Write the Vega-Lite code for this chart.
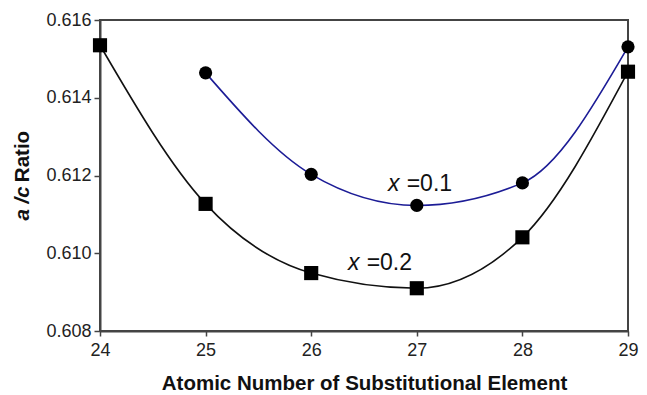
{
  "$schema": "https://vega.github.io/schema/vega-lite/v6.json",
  "width": 528,
  "height": 311,
  "autosize": {"type": "none"},
  "padding": {"left": 100, "top": 20, "right": 19, "bottom": 64},
  "background": "white",
  "config": {
    "view": {"stroke": "#444", "strokeWidth": 2},
    "font": "Liberation Sans",
    "axis": {"grid": false}
  },
  "datasets": {
    "pts": [
      {"z": 25, "r": 0.61464, "s": "x=0.1"},
      {"z": 26, "r": 0.61203, "s": "x=0.1"},
      {"z": 27, "r": 0.61123, "s": "x=0.1"},
      {"z": 28, "r": 0.61181, "s": "x=0.1"},
      {"z": 29, "r": 0.61531, "s": "x=0.1"},
      {"z": 24, "r": 0.61535, "s": "x=0.2"},
      {"z": 25, "r": 0.61127, "s": "x=0.2"},
      {"z": 26, "r": 0.60949, "s": "x=0.2"},
      {"z": 27, "r": 0.60910, "s": "x=0.2"},
      {"z": 28, "r": 0.61041, "s": "x=0.2"},
      {"z": 29, "r": 0.61467, "s": "x=0.2"}
    ],
    "lab": [
      {"z": 26.727, "r": 0.611613, "t": "x", "k": "var"},
      {"z": 26.904, "r": 0.611613, "t": "=0.1", "k": "val"},
      {"z": 26.348, "r": 0.609574, "t": "x", "k": "var"},
      {"z": 26.525, "r": 0.609574, "t": "=0.2", "k": "val"}
    ]
  },
  "resolve": {"scale": {"y": "independent"}},
  "layer": [
    {
      "layer": [
        {
          "data": {"name": "pts"},
          "mark": {"type": "line", "interpolate": "monotone", "strokeWidth": 1.6},
          "encoding": {
            "x": {"field": "z", "type": "quantitative"},
            "y": {"field": "r", "type": "quantitative"},
            "color": {"field": "s", "type": "nominal", "scale": {"domain": ["x=0.1", "x=0.2"], "range": ["#1c1c96", "#111111"]}, "legend": null}
          }
        },
        {
          "data": {"name": "pts"},
          "transform": [{"filter": "datum.s === 'x=0.1'"}],
          "mark": {"type": "point", "shape": "circle", "filled": true, "color": "#000", "opacity": 1, "size": 175},
          "encoding": {
            "x": {"field": "z", "type": "quantitative"},
            "y": {"field": "r", "type": "quantitative"}
          }
        },
        {
          "data": {"name": "pts"},
          "transform": [{"filter": "datum.s === 'x=0.2'"}],
          "mark": {"type": "point", "shape": "square", "filled": true, "color": "#000", "opacity": 1, "size": 200},
          "encoding": {
            "x": {"field": "z", "type": "quantitative"},
            "y": {"field": "r", "type": "quantitative"}
          }
        },
        {
          "data": {"name": "lab"},
          "transform": [{"filter": "datum.k === 'var'"}],
          "mark": {"type": "text", "align": "left", "baseline": "alphabetic", "fontSize": 23, "fontStyle": "italic", "color": "#111"},
          "encoding": {
            "x": {"field": "z", "type": "quantitative"},
            "y": {"field": "r", "type": "quantitative"},
            "text": {"field": "t"}
          }
        },
        {
          "data": {"name": "lab"},
          "transform": [{"filter": "datum.k === 'val'"}],
          "mark": {"type": "text", "align": "left", "baseline": "alphabetic", "fontSize": 23, "color": "#111"},
          "encoding": {
            "x": {"field": "z", "type": "quantitative",
              "scale": {"domain": [24, 29], "nice": false, "zero": false},
              "axis": {"values": [24, 25, 26, 27, 28, 29], "labelFlush": false, "title": "Atomic Number of Substitutional Element", "titleFontSize": 20.5, "titleFontWeight": "bold", "titleColor": "#111", "titlePadding": 14, "labelFontSize": 18, "labelColor": "#222", "labelPadding": 5, "tickSize": 5, "tickColor": "#444", "tickWidth": 1.5, "domainColor": "#444", "domainWidth": 2, "format": "d"}},
            "y": {"field": "r", "type": "quantitative",
              "scale": {"domain": [0.608, 0.616], "nice": false, "zero": false},
              "axis": {"values": [0.608, 0.610, 0.612, 0.614, 0.616], "format": ".3f", "title": "Ratio", "titleFontSize": 20.5, "titleFontWeight": "bold", "titleColor": "#111", "titleX": -78, "titleY": 136, "titleAngle": 270, "titleBaseline": "middle", "titleAlign": "center", "labelFontSize": 18, "labelColor": "#222", "labelPadding": 3, "tickSize": 6, "tickColor": "#444", "tickWidth": 1.5, "domainColor": "#444", "domainWidth": 2}},
            "text": {"field": "t"}
          }
        }
      ]
    },
    {
      "data": {"name": "pts"},
      "mark": {"type": "point", "opacity": 0},
      "encoding": {
        "x": {"field": "z", "type": "quantitative"},
        "y": {"field": "r", "type": "quantitative",
          "scale": {"domain": [0.608, 0.616], "nice": false, "zero": false},
          "axis": {"orient": "left", "labels": false, "ticks": false, "domain": false, "title": "a /c", "titleFontSize": 20.5, "titleFontWeight": "bold", "titleFontStyle": "italic", "titleColor": "#111", "titleX": -78, "titleY": 183, "titleAngle": 270, "titleBaseline": "middle", "titleAlign": "center"}}
      }
    }
  ]
}
